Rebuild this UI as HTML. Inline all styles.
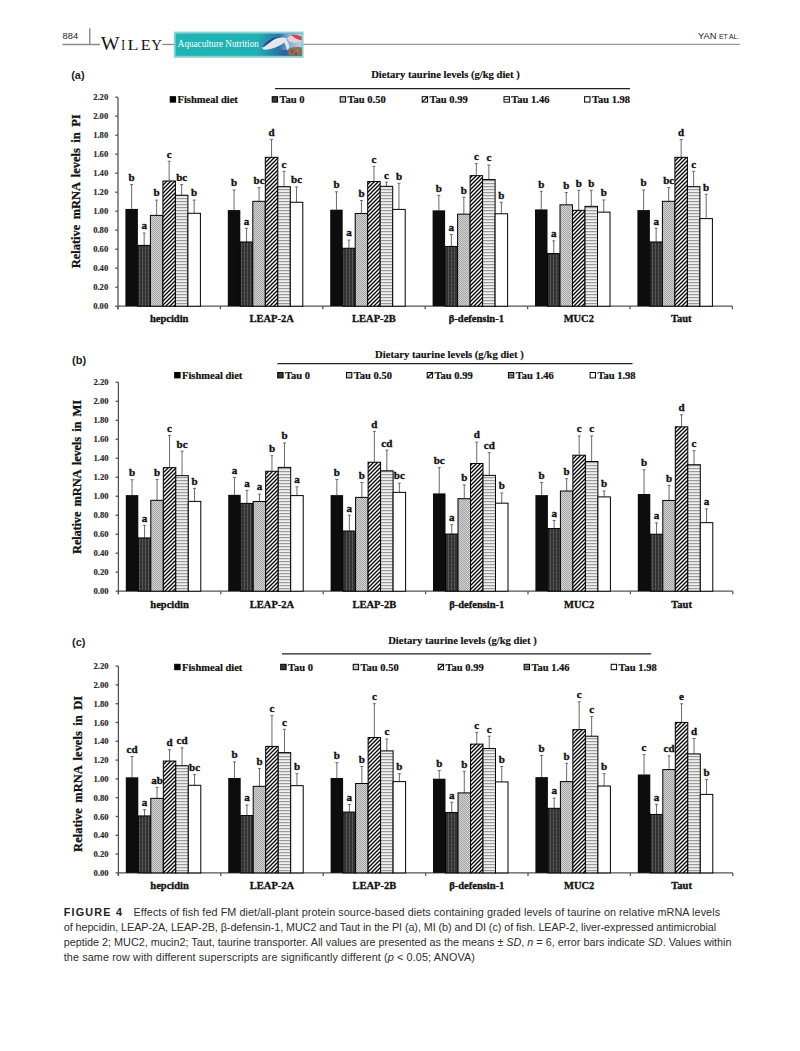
<!DOCTYPE html>
<html><head><meta charset="utf-8">
<style>
html,body{margin:0;padding:0;background:#fff;}
body{width:800px;height:1051px;position:relative;overflow:hidden;}
svg{position:absolute;left:0;top:0;}
.tag{font-family:"Liberation Sans",sans-serif;font-weight:bold;font-size:11px;fill:#222;}
.ttl{font-family:"Liberation Serif",serif;font-weight:bold;font-size:10.6px;fill:#111;stroke:#111;stroke-width:0.15px;}
.leg{font-family:"Liberation Serif",serif;font-weight:bold;font-size:10.5px;fill:#111;stroke:#111;stroke-width:0.2px;}
.tick{font-family:"Liberation Serif",serif;font-weight:bold;font-size:8.6px;fill:#2a2a2a;stroke:#2a2a2a;stroke-width:0.15px;}
.yt{font-family:"Liberation Serif",serif;font-weight:bold;font-size:12.5px;fill:#111;stroke:#111;stroke-width:0.25px;word-spacing:2.4px;}
.lab{font-family:"Liberation Serif",serif;font-weight:bold;font-size:11px;fill:#111;stroke:#111;stroke-width:0.35px;}
.cat{font-family:"Liberation Serif",serif;font-weight:bold;font-size:10.5px;fill:#111;stroke:#111;stroke-width:0.3px;}
.axis{stroke:#555;stroke-width:1.3;}
.err{stroke:#6a6a6a;stroke-width:1;}
.cap{font-family:"Liberation Sans",sans-serif;font-size:9.6px;fill:#333;}
</style></head>
<body>
<svg width="800" height="1051" viewBox="0 0 800 1051">
<defs>
<pattern id="pDark" width="3" height="4" patternUnits="userSpaceOnUse">
<rect width="3" height="4" fill="#333"/><rect x="1" width="1" height="4" fill="#5c5c5c"/><rect x="1" y="2" width="1" height="1" fill="#444"/>
</pattern>
<pattern id="pDot" width="2" height="2" patternUnits="userSpaceOnUse">
<rect width="2" height="2" fill="#d2d2d2"/><rect width="1" height="1" fill="#a6a6a6"/><rect x="1" y="1" width="1" height="1" fill="#a6a6a6"/>
</pattern>
<pattern id="pDiag" width="4" height="4" patternUnits="userSpaceOnUse">
<rect width="4" height="4" fill="#fff"/><path d="M-1,1 L1,-1 M0,4 L4,0 M3,5 L5,3" stroke="#000" stroke-width="1.3"/>
</pattern>
<pattern id="pDiagS" width="2.5" height="2.5" patternUnits="userSpaceOnUse">
<rect width="2.5" height="2.5" fill="#fff"/><path d="M0,2.5 L2.5,0" stroke="#000" stroke-width="1"/>
</pattern>
<pattern id="pHor" width="4" height="3" patternUnits="userSpaceOnUse">
<rect width="4" height="3" fill="#f0f0f0"/><rect y="0" width="4" height="1.2" fill="#9a9a9a"/>
</pattern>
<linearGradient id="teal" x1="0" y1="0" x2="1" y2="0">
<stop offset="0" stop-color="#20b4b4"/><stop offset="0.64" stop-color="#1fb2b4"/><stop offset="0.76" stop-color="#2a86b0"/><stop offset="0.86" stop-color="#2d64a2"/><stop offset="1" stop-color="#3d6aa6"/>
</linearGradient>
<linearGradient id="lb" x1="0" y1="0" x2="1" y2="0"><stop offset="0" stop-color="#9fbfdc" stop-opacity="0"/><stop offset="0.4" stop-color="#9fbfdc" stop-opacity="0.75"/><stop offset="1" stop-color="#bcd2e6"/>
</linearGradient>
</defs>
<!-- header -->
<text x="62.6" y="39.3" style="font-family:'Liberation Sans',sans-serif;font-size:9.3px;fill:#222">884</text>
<line x1="89.8" y1="28.3" x2="89.8" y2="44.5" stroke="#777" stroke-width="1.2"/>
<line x1="62.5" y1="44.5" x2="100" y2="44.5" stroke="#8a8a8a" stroke-width="1.3"/>
<line x1="162.3" y1="44.5" x2="174" y2="44.5" stroke="#8a8a8a" stroke-width="1.3"/>
<line x1="303" y1="44.4" x2="740" y2="44.4" stroke="#9a9a9a" stroke-width="1.4"/>
<g style="font-family:'Liberation Serif',serif;fill:#151515">
<text x="100.8" y="49.8" font-size="18.6" textLength="18.8" lengthAdjust="spacingAndGlyphs">W</text>
<text x="121.2" y="49.8" font-size="14.6" textLength="3.8" lengthAdjust="spacingAndGlyphs">I</text>
<text x="127.6" y="49.8" font-size="14.6" textLength="11" lengthAdjust="spacingAndGlyphs">L</text>
<text x="140.7" y="49.8" font-size="14.6" textLength="9.9" lengthAdjust="spacingAndGlyphs">E</text>
<text x="151.3" y="49.8" font-size="14.6" textLength="10.8" lengthAdjust="spacingAndGlyphs">Y</text>
</g>
<rect x="173.8" y="31.6" width="129.8" height="26.2" fill="#8ad2d4"/>
<rect x="175.6" y="33.6" width="126.2" height="22.2" fill="url(#teal)"/>
<path d="M279,33.6 L301.8,33.6 L301.8,50 L279,50 Z" fill="url(#lb)"/>
<ellipse cx="274.5" cy="43.6" rx="13" ry="3.9" transform="rotate(-22 274.5 43.6)" fill="#e3e9f3"/>
<path d="M262.5,46.8 C266,42 271,38.2 277,36.4 C274,39.5 269,43 263.5,47.2 Z" fill="#24427e"/>
<path d="M284.5,38.5 C287.5,40 289.5,43.5 289,47.5 L287.5,50.5 C286.5,47.5 285.5,44 283.5,41.5 Z" fill="#dfe8f3"/>
<path d="M287.2,38.5 C288.5,35.5 294,34.3 298.5,34.8 C301,35.6 301.8,37.5 301.8,40.5 C299,42.8 294,43.2 290.5,42 C288.5,41.2 287.3,40 287.2,38.5 Z" fill="#e6cfd4"/>
<path d="M291,35 C295,34.3 299,34.8 301.6,36.8 L301.8,40.3 C298,39.8 294.5,38.2 291,35 Z" fill="#c4485a"/>
<path d="M288.4,49.2 C290.5,47.2 296,46.6 301.8,47.4 L301.8,55.8 L289,55.8 C288,53.8 287.8,51.2 288.4,49.2 Z" fill="#8b6e56"/>
<circle cx="292" cy="51.5" r="1.2" fill="#6d513c"/><circle cx="297.6" cy="50.2" r="1" fill="#a88a6d"/><circle cx="296" cy="54" r="1.1" fill="#604b3b"/>
<text x="177.8" y="47.2" textLength="81" lengthAdjust="spacingAndGlyphs" style="font-family:'Liberation Serif',serif;font-size:10.2px;fill:#fff">Aquaculture Nutrition</text>
<text x="698" y="39.2" style="font-family:'Liberation Sans',sans-serif;font-size:9.3px;fill:#222">YAN <tspan style="font-size:6.8px">ET AL.</tspan></text>
<text x="71.2" y="79.2" class="tag">(a)</text>
<text x="445.5" y="78.3" class="ttl" text-anchor="middle">Dietary taurine levels (g/kg diet )</text>
<line x1="275" y1="88.6" x2="630" y2="88.6" stroke="#222" stroke-width="1.3"/>
<rect x="170.2" y="96.7" width="5.4" height="5.4" fill="#000" stroke="#000" stroke-width="1"/>
<text x="177.5" y="103" class="leg">Fishmeal diet</text>
<rect x="272.2" y="96.7" width="5.4" height="5.4" fill="#3a3a3a" stroke="#000" stroke-width="1"/>
<text x="279.5" y="103" class="leg">Tau 0</text>
<rect x="340.2" y="96.7" width="5.4" height="5.4" fill="#c4c4c4" stroke="#000" stroke-width="1"/>
<text x="347.5" y="103" class="leg">Tau 0.50</text>
<rect x="422.2" y="96.7" width="5.4" height="5.4" fill="#fff" stroke="#000" stroke-width="1"/>
<line x1="422.2" y1="102.1" x2="427.6" y2="96.7" stroke="#000" stroke-width="1.2"/>
<text x="429.5" y="103" class="leg">Tau 0.99</text>
<rect x="504" y="96.7" width="5.4" height="5.4" fill="#fff" stroke="#000" stroke-width="1"/>
<line x1="504" y1="99.4" x2="509.4" y2="99.4" stroke="#333" stroke-width="1"/>
<text x="511.3" y="103" class="leg">Tau 1.46</text>
<rect x="584.6" y="96.7" width="5.4" height="5.4" fill="#fff" stroke="#000" stroke-width="1"/>
<text x="591.9" y="103" class="leg">Tau 1.98</text>
<line x1="118" y1="97.2" x2="118" y2="309.2" class="axis"/>
<line x1="118" y1="306.2" x2="732.4" y2="306.2" class="axis"/>
<line x1="115.2" y1="306.2" x2="118" y2="306.2" class="axis"/>
<text x="108.2" y="309.2" class="tick" text-anchor="end">0.00</text>
<line x1="115.2" y1="287.2" x2="118" y2="287.2" class="axis"/>
<text x="108.2" y="290.2" class="tick" text-anchor="end">0.20</text>
<line x1="115.2" y1="268.2" x2="118" y2="268.2" class="axis"/>
<text x="108.2" y="271.2" class="tick" text-anchor="end">0.40</text>
<line x1="115.2" y1="249.2" x2="118" y2="249.2" class="axis"/>
<text x="108.2" y="252.2" class="tick" text-anchor="end">0.60</text>
<line x1="115.2" y1="230.2" x2="118" y2="230.2" class="axis"/>
<text x="108.2" y="233.2" class="tick" text-anchor="end">0.80</text>
<line x1="115.2" y1="211.2" x2="118" y2="211.2" class="axis"/>
<text x="108.2" y="214.2" class="tick" text-anchor="end">1.00</text>
<line x1="115.2" y1="192.2" x2="118" y2="192.2" class="axis"/>
<text x="108.2" y="195.2" class="tick" text-anchor="end">1.20</text>
<line x1="115.2" y1="173.2" x2="118" y2="173.2" class="axis"/>
<text x="108.2" y="176.2" class="tick" text-anchor="end">1.40</text>
<line x1="115.2" y1="154.2" x2="118" y2="154.2" class="axis"/>
<text x="108.2" y="157.2" class="tick" text-anchor="end">1.60</text>
<line x1="115.2" y1="135.2" x2="118" y2="135.2" class="axis"/>
<text x="108.2" y="138.2" class="tick" text-anchor="end">1.80</text>
<line x1="115.2" y1="116.2" x2="118" y2="116.2" class="axis"/>
<text x="108.2" y="119.2" class="tick" text-anchor="end">2.00</text>
<line x1="115.2" y1="97.2" x2="118" y2="97.2" class="axis"/>
<text x="108.2" y="100.2" class="tick" text-anchor="end">2.20</text>
<line x1="118" y1="306.2" x2="118" y2="309.2" class="axis"/>
<line x1="220.4" y1="306.2" x2="220.4" y2="309.2" class="axis"/>
<line x1="322.8" y1="306.2" x2="322.8" y2="309.2" class="axis"/>
<line x1="425.2" y1="306.2" x2="425.2" y2="309.2" class="axis"/>
<line x1="527.6" y1="306.2" x2="527.6" y2="309.2" class="axis"/>
<line x1="630" y1="306.2" x2="630" y2="309.2" class="axis"/>
<line x1="732.4" y1="306.2" x2="732.4" y2="309.2" class="axis"/>
<text transform="translate(80,191.3) rotate(-90)" class="yt" text-anchor="middle" textLength="154" lengthAdjust="spacing">Relative mRNA levels in PI</text>
<line x1="131.65" y1="184.6" x2="131.65" y2="208.92" class="err"/>
<line x1="130.15" y1="184.6" x2="133.15" y2="184.6" class="err"/>
<rect x="125.4" y="208.92" width="12.5" height="97.28" fill="#0d0d0d"/>
<text x="131.65" y="180.9" class="lab" text-anchor="middle">b</text>
<line x1="144.15" y1="233.05" x2="144.15" y2="245.4" class="err"/>
<line x1="142.65" y1="233.05" x2="145.65" y2="233.05" class="err"/>
<rect x="137.9" y="245.4" width="12.5" height="60.8" fill="url(#pDark)" stroke="#000" stroke-width="1"/>
<text x="144.15" y="229.35" class="lab" text-anchor="middle">a</text>
<line x1="156.65" y1="200.08" x2="156.65" y2="215.38" class="err"/>
<line x1="155.15" y1="200.08" x2="158.15" y2="200.08" class="err"/>
<rect x="150.4" y="215.38" width="12.5" height="90.82" fill="url(#pDot)" stroke="#000" stroke-width="1"/>
<text x="156.65" y="196.38" class="lab" text-anchor="middle">b</text>
<line x1="169.15" y1="161.23" x2="169.15" y2="180.99" class="err"/>
<line x1="167.65" y1="161.23" x2="170.65" y2="161.23" class="err"/>
<rect x="162.9" y="180.99" width="12.5" height="125.21" fill="url(#pDiag)" stroke="#000" stroke-width="1"/>
<text x="169.15" y="157.53" class="lab" text-anchor="middle">c</text>
<line x1="181.65" y1="184.6" x2="181.65" y2="195.24" class="err"/>
<line x1="180.15" y1="184.6" x2="183.15" y2="184.6" class="err"/>
<rect x="175.4" y="195.24" width="12.5" height="110.96" fill="url(#pHor)" stroke="#000" stroke-width="1"/>
<text x="181.65" y="180.9" class="lab" text-anchor="middle">bc</text>
<line x1="194.15" y1="200.08" x2="194.15" y2="213.29" class="err"/>
<line x1="192.65" y1="200.08" x2="195.65" y2="200.08" class="err"/>
<rect x="187.9" y="213.29" width="12.5" height="92.91" fill="#ffffff" stroke="#000" stroke-width="1"/>
<text x="194.15" y="196.38" class="lab" text-anchor="middle">b</text>
<text x="169.2" y="321.8" class="cat" text-anchor="middle">hepcidin</text>
<line x1="234.05" y1="190.01" x2="234.05" y2="210.06" class="err"/>
<line x1="232.55" y1="190.01" x2="235.55" y2="190.01" class="err"/>
<rect x="227.8" y="210.06" width="12.5" height="96.14" fill="#0d0d0d"/>
<text x="234.05" y="186.31" class="lab" text-anchor="middle">b</text>
<line x1="246.55" y1="228.3" x2="246.55" y2="241.98" class="err"/>
<line x1="245.05" y1="228.3" x2="248.05" y2="228.3" class="err"/>
<rect x="240.3" y="241.98" width="12.5" height="64.22" fill="url(#pDark)" stroke="#000" stroke-width="1"/>
<text x="246.55" y="224.6" class="lab" text-anchor="middle">a</text>
<line x1="259.05" y1="187.64" x2="259.05" y2="201.32" class="err"/>
<line x1="257.55" y1="187.64" x2="260.55" y2="187.64" class="err"/>
<rect x="252.8" y="201.32" width="12.5" height="104.88" fill="url(#pDot)" stroke="#000" stroke-width="1"/>
<text x="259.05" y="183.94" class="lab" text-anchor="middle">bc</text>
<line x1="271.55" y1="139.47" x2="271.55" y2="157.33" class="err"/>
<line x1="270.05" y1="139.47" x2="273.05" y2="139.47" class="err"/>
<rect x="265.3" y="157.33" width="12.5" height="148.87" fill="url(#pDiag)" stroke="#000" stroke-width="1"/>
<text x="271.55" y="135.78" class="lab" text-anchor="middle">d</text>
<line x1="284.05" y1="171.3" x2="284.05" y2="186.69" class="err"/>
<line x1="282.55" y1="171.3" x2="285.55" y2="171.3" class="err"/>
<rect x="277.8" y="186.69" width="12.5" height="119.51" fill="url(#pHor)" stroke="#000" stroke-width="1"/>
<text x="284.05" y="167.6" class="lab" text-anchor="middle">c</text>
<line x1="296.55" y1="186.97" x2="296.55" y2="202.27" class="err"/>
<line x1="295.05" y1="186.97" x2="298.05" y2="186.97" class="err"/>
<rect x="290.3" y="202.27" width="12.5" height="103.93" fill="#ffffff" stroke="#000" stroke-width="1"/>
<text x="296.55" y="183.28" class="lab" text-anchor="middle">bc</text>
<text x="271.6" y="321.8" class="cat" text-anchor="middle">LEAP-2A</text>
<line x1="336.45" y1="191.82" x2="336.45" y2="209.68" class="err"/>
<line x1="334.95" y1="191.82" x2="337.95" y2="191.82" class="err"/>
<rect x="330.2" y="209.68" width="12.5" height="96.52" fill="#0d0d0d"/>
<text x="336.45" y="188.12" class="lab" text-anchor="middle">b</text>
<line x1="348.95" y1="240.08" x2="348.95" y2="248.25" class="err"/>
<line x1="347.45" y1="240.08" x2="350.45" y2="240.08" class="err"/>
<rect x="342.7" y="248.25" width="12.5" height="57.95" fill="url(#pDark)" stroke="#000" stroke-width="1"/>
<text x="348.95" y="236.38" class="lab" text-anchor="middle">a</text>
<line x1="361.45" y1="200.46" x2="361.45" y2="213.48" class="err"/>
<line x1="359.95" y1="200.46" x2="362.95" y2="200.46" class="err"/>
<rect x="355.2" y="213.48" width="12.5" height="92.72" fill="url(#pDot)" stroke="#000" stroke-width="1"/>
<text x="361.45" y="196.76" class="lab" text-anchor="middle">b</text>
<line x1="373.95" y1="166.36" x2="373.95" y2="181.56" class="err"/>
<line x1="372.45" y1="166.36" x2="375.45" y2="166.36" class="err"/>
<rect x="367.7" y="181.56" width="12.5" height="124.64" fill="url(#pDiag)" stroke="#000" stroke-width="1"/>
<text x="373.95" y="162.66" class="lab" text-anchor="middle">c</text>
<line x1="386.45" y1="182.22" x2="386.45" y2="186.31" class="err"/>
<line x1="384.95" y1="182.22" x2="387.95" y2="182.22" class="err"/>
<rect x="380.2" y="186.31" width="12.5" height="119.89" fill="url(#pHor)" stroke="#000" stroke-width="1"/>
<text x="386.45" y="178.53" class="lab" text-anchor="middle">c</text>
<line x1="398.95" y1="183.27" x2="398.95" y2="209.39" class="err"/>
<line x1="397.45" y1="183.27" x2="400.45" y2="183.27" class="err"/>
<rect x="392.7" y="209.39" width="12.5" height="96.81" fill="#ffffff" stroke="#000" stroke-width="1"/>
<text x="398.95" y="179.57" class="lab" text-anchor="middle">b</text>
<text x="374" y="321.8" class="cat" text-anchor="middle">LEAP-2B</text>
<line x1="438.85" y1="195.33" x2="438.85" y2="210.34" class="err"/>
<line x1="437.35" y1="195.33" x2="440.35" y2="195.33" class="err"/>
<rect x="432.6" y="210.34" width="12.5" height="95.85" fill="#0d0d0d"/>
<text x="438.85" y="191.63" class="lab" text-anchor="middle">b</text>
<line x1="451.35" y1="234.57" x2="451.35" y2="246.44" class="err"/>
<line x1="449.85" y1="234.57" x2="452.85" y2="234.57" class="err"/>
<rect x="445.1" y="246.44" width="12.5" height="59.75" fill="url(#pDark)" stroke="#000" stroke-width="1"/>
<text x="451.35" y="230.87" class="lab" text-anchor="middle">a</text>
<line x1="463.85" y1="197.23" x2="463.85" y2="214.14" class="err"/>
<line x1="462.35" y1="197.23" x2="465.35" y2="197.23" class="err"/>
<rect x="457.6" y="214.14" width="12.5" height="92.06" fill="url(#pDot)" stroke="#000" stroke-width="1"/>
<text x="463.85" y="193.53" class="lab" text-anchor="middle">b</text>
<line x1="476.35" y1="163.7" x2="476.35" y2="175.67" class="err"/>
<line x1="474.85" y1="163.7" x2="477.85" y2="163.7" class="err"/>
<rect x="470.1" y="175.67" width="12.5" height="130.53" fill="url(#pDiag)" stroke="#000" stroke-width="1"/>
<text x="476.35" y="160" class="lab" text-anchor="middle">c</text>
<line x1="488.85" y1="165.03" x2="488.85" y2="179.56" class="err"/>
<line x1="487.35" y1="165.03" x2="490.35" y2="165.03" class="err"/>
<rect x="482.6" y="179.56" width="12.5" height="126.63" fill="url(#pHor)" stroke="#000" stroke-width="1"/>
<text x="488.85" y="161.33" class="lab" text-anchor="middle">c</text>
<line x1="501.35" y1="202.27" x2="501.35" y2="213.76" class="err"/>
<line x1="499.85" y1="202.27" x2="502.85" y2="202.27" class="err"/>
<rect x="495.1" y="213.76" width="12.5" height="92.44" fill="#ffffff" stroke="#000" stroke-width="1"/>
<text x="501.35" y="198.57" class="lab" text-anchor="middle">b</text>
<text x="476.4" y="321.8" class="cat" text-anchor="middle">β-defensin-1</text>
<line x1="541.25" y1="191.25" x2="541.25" y2="209.39" class="err"/>
<line x1="539.75" y1="191.25" x2="542.75" y2="191.25" class="err"/>
<rect x="535" y="209.39" width="12.5" height="96.81" fill="#0d0d0d"/>
<text x="541.25" y="187.55" class="lab" text-anchor="middle">b</text>
<line x1="553.75" y1="240.84" x2="553.75" y2="253.57" class="err"/>
<line x1="552.25" y1="240.84" x2="555.25" y2="240.84" class="err"/>
<rect x="547.5" y="253.57" width="12.5" height="52.63" fill="url(#pDark)" stroke="#000" stroke-width="1"/>
<text x="553.75" y="237.14" class="lab" text-anchor="middle">a</text>
<line x1="566.25" y1="192.48" x2="566.25" y2="204.83" class="err"/>
<line x1="564.75" y1="192.48" x2="567.75" y2="192.48" class="err"/>
<rect x="560" y="204.83" width="12.5" height="101.37" fill="url(#pDot)" stroke="#000" stroke-width="1"/>
<text x="566.25" y="188.78" class="lab" text-anchor="middle">b</text>
<line x1="578.75" y1="190.3" x2="578.75" y2="210.34" class="err"/>
<line x1="577.25" y1="190.3" x2="580.25" y2="190.3" class="err"/>
<rect x="572.5" y="210.34" width="12.5" height="95.85" fill="url(#pDiag)" stroke="#000" stroke-width="1"/>
<text x="578.75" y="186.6" class="lab" text-anchor="middle">b</text>
<line x1="591.25" y1="190.3" x2="591.25" y2="206.35" class="err"/>
<line x1="589.75" y1="190.3" x2="592.75" y2="190.3" class="err"/>
<rect x="585" y="206.35" width="12.5" height="99.84" fill="url(#pHor)" stroke="#000" stroke-width="1"/>
<text x="591.25" y="186.6" class="lab" text-anchor="middle">b</text>
<line x1="603.75" y1="199.99" x2="603.75" y2="212.15" class="err"/>
<line x1="602.25" y1="199.99" x2="605.25" y2="199.99" class="err"/>
<rect x="597.5" y="212.15" width="12.5" height="94.05" fill="#ffffff" stroke="#000" stroke-width="1"/>
<text x="603.75" y="196.29" class="lab" text-anchor="middle">b</text>
<text x="578.8" y="321.8" class="cat" text-anchor="middle">MUC2</text>
<line x1="643.65" y1="190.01" x2="643.65" y2="210.06" class="err"/>
<line x1="642.15" y1="190.01" x2="645.15" y2="190.01" class="err"/>
<rect x="637.4" y="210.06" width="12.5" height="96.14" fill="#0d0d0d"/>
<text x="643.65" y="186.31" class="lab" text-anchor="middle">b</text>
<line x1="656.15" y1="228.3" x2="656.15" y2="241.98" class="err"/>
<line x1="654.65" y1="228.3" x2="657.65" y2="228.3" class="err"/>
<rect x="649.9" y="241.98" width="12.5" height="64.22" fill="url(#pDark)" stroke="#000" stroke-width="1"/>
<text x="656.15" y="224.6" class="lab" text-anchor="middle">a</text>
<line x1="668.65" y1="187.64" x2="668.65" y2="201.32" class="err"/>
<line x1="667.15" y1="187.64" x2="670.15" y2="187.64" class="err"/>
<rect x="662.4" y="201.32" width="12.5" height="104.88" fill="url(#pDot)" stroke="#000" stroke-width="1"/>
<text x="668.65" y="183.94" class="lab" text-anchor="middle">bc</text>
<line x1="681.15" y1="139.47" x2="681.15" y2="157.33" class="err"/>
<line x1="679.65" y1="139.47" x2="682.65" y2="139.47" class="err"/>
<rect x="674.9" y="157.33" width="12.5" height="148.87" fill="url(#pDiag)" stroke="#000" stroke-width="1"/>
<text x="681.15" y="135.78" class="lab" text-anchor="middle">d</text>
<line x1="693.65" y1="171.3" x2="693.65" y2="186.69" class="err"/>
<line x1="692.15" y1="171.3" x2="695.15" y2="171.3" class="err"/>
<rect x="687.4" y="186.69" width="12.5" height="119.51" fill="url(#pHor)" stroke="#000" stroke-width="1"/>
<text x="693.65" y="167.6" class="lab" text-anchor="middle">c</text>
<line x1="706.15" y1="194.29" x2="706.15" y2="218.61" class="err"/>
<line x1="704.65" y1="194.29" x2="707.65" y2="194.29" class="err"/>
<rect x="699.9" y="218.61" width="12.5" height="87.59" fill="#ffffff" stroke="#000" stroke-width="1"/>
<text x="706.15" y="190.59" class="lab" text-anchor="middle">b</text>
<text x="681.2" y="321.8" class="cat" text-anchor="middle">Taut</text>
<text x="72" y="364.2" class="tag">(b)</text>
<text x="449.4" y="358" class="ttl" text-anchor="middle">Dietary taurine levels (g/kg diet )</text>
<line x1="277.5" y1="363.6" x2="632.5" y2="363.6" stroke="#222" stroke-width="1.3"/>
<rect x="174.7" y="372.5" width="5.4" height="5.4" fill="#000" stroke="#000" stroke-width="1"/>
<text x="182" y="378.8" class="leg">Fishmeal diet</text>
<rect x="277.7" y="372.5" width="5.4" height="5.4" fill="#3a3a3a" stroke="#000" stroke-width="1"/>
<text x="285" y="378.8" class="leg">Tau 0</text>
<rect x="346.45" y="372.5" width="5.4" height="5.4" fill="#c4c4c4" stroke="#000" stroke-width="1"/>
<text x="353.75" y="378.8" class="leg">Tau 0.50</text>
<rect x="427.2" y="372.5" width="5.4" height="5.4" fill="#fff" stroke="#000" stroke-width="1"/>
<line x1="427.2" y1="377.9" x2="432.6" y2="372.5" stroke="#000" stroke-width="1.2"/>
<text x="434.5" y="378.8" class="leg">Tau 0.99</text>
<rect x="508.4" y="372.5" width="5.4" height="5.4" fill="#999" stroke="#000" stroke-width="1"/>
<line x1="508.4" y1="375.2" x2="513.8" y2="375.2" stroke="#333" stroke-width="1"/>
<text x="515.7" y="378.8" class="leg">Tau 1.46</text>
<rect x="590.1" y="372.5" width="5.4" height="5.4" fill="#fff" stroke="#000" stroke-width="1"/>
<text x="597.4" y="378.8" class="leg">Tau 1.98</text>
<line x1="118.4" y1="382.31" x2="118.4" y2="594.2" class="axis"/>
<line x1="118.4" y1="591.2" x2="732.8" y2="591.2" class="axis"/>
<line x1="115.6" y1="591.2" x2="118.4" y2="591.2" class="axis"/>
<text x="108.6" y="594.2" class="tick" text-anchor="end">0.00</text>
<line x1="115.6" y1="572.21" x2="118.4" y2="572.21" class="axis"/>
<text x="108.6" y="575.21" class="tick" text-anchor="end">0.20</text>
<line x1="115.6" y1="553.22" x2="118.4" y2="553.22" class="axis"/>
<text x="108.6" y="556.22" class="tick" text-anchor="end">0.40</text>
<line x1="115.6" y1="534.23" x2="118.4" y2="534.23" class="axis"/>
<text x="108.6" y="537.23" class="tick" text-anchor="end">0.60</text>
<line x1="115.6" y1="515.24" x2="118.4" y2="515.24" class="axis"/>
<text x="108.6" y="518.24" class="tick" text-anchor="end">0.80</text>
<line x1="115.6" y1="496.25" x2="118.4" y2="496.25" class="axis"/>
<text x="108.6" y="499.25" class="tick" text-anchor="end">1.00</text>
<line x1="115.6" y1="477.26" x2="118.4" y2="477.26" class="axis"/>
<text x="108.6" y="480.26" class="tick" text-anchor="end">1.20</text>
<line x1="115.6" y1="458.27" x2="118.4" y2="458.27" class="axis"/>
<text x="108.6" y="461.27" class="tick" text-anchor="end">1.40</text>
<line x1="115.6" y1="439.28" x2="118.4" y2="439.28" class="axis"/>
<text x="108.6" y="442.28" class="tick" text-anchor="end">1.60</text>
<line x1="115.6" y1="420.29" x2="118.4" y2="420.29" class="axis"/>
<text x="108.6" y="423.29" class="tick" text-anchor="end">1.80</text>
<line x1="115.6" y1="401.3" x2="118.4" y2="401.3" class="axis"/>
<text x="108.6" y="404.3" class="tick" text-anchor="end">2.00</text>
<line x1="115.6" y1="382.31" x2="118.4" y2="382.31" class="axis"/>
<text x="108.6" y="385.31" class="tick" text-anchor="end">2.20</text>
<line x1="118.4" y1="591.2" x2="118.4" y2="594.2" class="axis"/>
<line x1="220.8" y1="591.2" x2="220.8" y2="594.2" class="axis"/>
<line x1="323.2" y1="591.2" x2="323.2" y2="594.2" class="axis"/>
<line x1="425.6" y1="591.2" x2="425.6" y2="594.2" class="axis"/>
<line x1="528" y1="591.2" x2="528" y2="594.2" class="axis"/>
<line x1="630.4" y1="591.2" x2="630.4" y2="594.2" class="axis"/>
<line x1="732.8" y1="591.2" x2="732.8" y2="594.2" class="axis"/>
<text transform="translate(80.8,476.9) rotate(-90)" class="yt" text-anchor="middle" textLength="154" lengthAdjust="spacing">Relative mRNA levels in MI</text>
<line x1="132.05" y1="479.73" x2="132.05" y2="495.11" class="err"/>
<line x1="130.55" y1="479.73" x2="133.55" y2="479.73" class="err"/>
<rect x="125.8" y="495.11" width="12.5" height="96.09" fill="#0d0d0d"/>
<text x="132.05" y="476.03" class="lab" text-anchor="middle">b</text>
<line x1="144.55" y1="525.3" x2="144.55" y2="537.93" class="err"/>
<line x1="143.05" y1="525.3" x2="146.05" y2="525.3" class="err"/>
<rect x="138.3" y="537.93" width="12.5" height="53.27" fill="url(#pDark)" stroke="#000" stroke-width="1"/>
<text x="144.55" y="521.6" class="lab" text-anchor="middle">a</text>
<line x1="157.05" y1="479.44" x2="157.05" y2="500.33" class="err"/>
<line x1="155.55" y1="479.44" x2="158.55" y2="479.44" class="err"/>
<rect x="150.8" y="500.33" width="12.5" height="90.87" fill="url(#pDot)" stroke="#000" stroke-width="1"/>
<text x="157.05" y="475.74" class="lab" text-anchor="middle">b</text>
<line x1="169.55" y1="435.48" x2="169.55" y2="467.67" class="err"/>
<line x1="168.05" y1="435.48" x2="171.05" y2="435.48" class="err"/>
<rect x="163.3" y="467.67" width="12.5" height="123.53" fill="url(#pDiag)" stroke="#000" stroke-width="1"/>
<text x="169.55" y="431.78" class="lab" text-anchor="middle">c</text>
<line x1="182.05" y1="451.24" x2="182.05" y2="475.65" class="err"/>
<line x1="180.55" y1="451.24" x2="183.55" y2="451.24" class="err"/>
<rect x="175.8" y="475.65" width="12.5" height="115.55" fill="url(#pHor)" stroke="#000" stroke-width="1"/>
<text x="182.05" y="447.54" class="lab" text-anchor="middle">bc</text>
<line x1="194.55" y1="488.37" x2="194.55" y2="501.38" class="err"/>
<line x1="193.05" y1="488.37" x2="196.05" y2="488.37" class="err"/>
<rect x="188.3" y="501.38" width="12.5" height="89.82" fill="#ffffff" stroke="#000" stroke-width="1"/>
<text x="194.55" y="484.67" class="lab" text-anchor="middle">b</text>
<text x="169.6" y="607.5" class="cat" text-anchor="middle">hepcidin</text>
<line x1="234.45" y1="477.35" x2="234.45" y2="494.83" class="err"/>
<line x1="232.95" y1="477.35" x2="235.95" y2="477.35" class="err"/>
<rect x="228.2" y="494.83" width="12.5" height="96.37" fill="#0d0d0d"/>
<text x="234.45" y="473.65" class="lab" text-anchor="middle">a</text>
<line x1="246.95" y1="490.36" x2="246.95" y2="503.37" class="err"/>
<line x1="245.45" y1="490.36" x2="248.45" y2="490.36" class="err"/>
<rect x="240.7" y="503.37" width="12.5" height="87.83" fill="url(#pDark)" stroke="#000" stroke-width="1"/>
<text x="246.95" y="486.66" class="lab" text-anchor="middle">a</text>
<line x1="259.45" y1="494.16" x2="259.45" y2="501.47" class="err"/>
<line x1="257.95" y1="494.16" x2="260.95" y2="494.16" class="err"/>
<rect x="253.2" y="501.47" width="12.5" height="89.73" fill="url(#pDot)" stroke="#000" stroke-width="1"/>
<text x="259.45" y="490.46" class="lab" text-anchor="middle">a</text>
<line x1="271.95" y1="455.71" x2="271.95" y2="471.28" class="err"/>
<line x1="270.45" y1="455.71" x2="273.45" y2="455.71" class="err"/>
<rect x="265.7" y="471.28" width="12.5" height="119.92" fill="url(#pDiag)" stroke="#000" stroke-width="1"/>
<text x="271.95" y="452.01" class="lab" text-anchor="middle">b</text>
<line x1="284.45" y1="442.98" x2="284.45" y2="467.39" class="err"/>
<line x1="282.95" y1="442.98" x2="285.95" y2="442.98" class="err"/>
<rect x="278.2" y="467.39" width="12.5" height="123.81" fill="url(#pHor)" stroke="#000" stroke-width="1"/>
<text x="284.45" y="439.28" class="lab" text-anchor="middle">b</text>
<line x1="296.95" y1="486.85" x2="296.95" y2="495.59" class="err"/>
<line x1="295.45" y1="486.85" x2="298.45" y2="486.85" class="err"/>
<rect x="290.7" y="495.59" width="12.5" height="95.61" fill="#ffffff" stroke="#000" stroke-width="1"/>
<text x="296.95" y="483.15" class="lab" text-anchor="middle">a</text>
<text x="272" y="607.5" class="cat" text-anchor="middle">LEAP-2A</text>
<line x1="336.85" y1="479.44" x2="336.85" y2="495.11" class="err"/>
<line x1="335.35" y1="479.44" x2="338.35" y2="479.44" class="err"/>
<rect x="330.6" y="495.11" width="12.5" height="96.09" fill="#0d0d0d"/>
<text x="336.85" y="475.74" class="lab" text-anchor="middle">b</text>
<line x1="349.35" y1="515.24" x2="349.35" y2="531" class="err"/>
<line x1="347.85" y1="515.24" x2="350.85" y2="515.24" class="err"/>
<rect x="343.1" y="531" width="12.5" height="60.2" fill="url(#pDark)" stroke="#000" stroke-width="1"/>
<text x="349.35" y="511.54" class="lab" text-anchor="middle">a</text>
<line x1="361.85" y1="482.48" x2="361.85" y2="497.39" class="err"/>
<line x1="360.35" y1="482.48" x2="363.35" y2="482.48" class="err"/>
<rect x="355.6" y="497.39" width="12.5" height="93.81" fill="url(#pDot)" stroke="#000" stroke-width="1"/>
<text x="361.85" y="478.78" class="lab" text-anchor="middle">b</text>
<line x1="374.35" y1="431.4" x2="374.35" y2="462.26" class="err"/>
<line x1="372.85" y1="431.4" x2="375.85" y2="431.4" class="err"/>
<rect x="368.1" y="462.26" width="12.5" height="128.94" fill="url(#pDiag)" stroke="#000" stroke-width="1"/>
<text x="374.35" y="427.7" class="lab" text-anchor="middle">d</text>
<line x1="386.85" y1="450.2" x2="386.85" y2="470.8" class="err"/>
<line x1="385.35" y1="450.2" x2="388.35" y2="450.2" class="err"/>
<rect x="380.6" y="470.8" width="12.5" height="120.4" fill="url(#pHor)" stroke="#000" stroke-width="1"/>
<text x="386.85" y="446.5" class="lab" text-anchor="middle">cd</text>
<line x1="399.35" y1="483.15" x2="399.35" y2="492.36" class="err"/>
<line x1="397.85" y1="483.15" x2="400.85" y2="483.15" class="err"/>
<rect x="393.1" y="492.36" width="12.5" height="98.84" fill="#ffffff" stroke="#000" stroke-width="1"/>
<text x="399.35" y="479.45" class="lab" text-anchor="middle">bc</text>
<text x="374.4" y="607.5" class="cat" text-anchor="middle">LEAP-2B</text>
<line x1="439.25" y1="467.67" x2="439.25" y2="493.4" class="err"/>
<line x1="437.75" y1="467.67" x2="440.75" y2="467.67" class="err"/>
<rect x="433" y="493.4" width="12.5" height="97.8" fill="#0d0d0d"/>
<text x="439.25" y="463.97" class="lab" text-anchor="middle">bc</text>
<line x1="451.75" y1="524.74" x2="451.75" y2="534.04" class="err"/>
<line x1="450.25" y1="524.74" x2="453.25" y2="524.74" class="err"/>
<rect x="445.5" y="534.04" width="12.5" height="57.16" fill="url(#pDark)" stroke="#000" stroke-width="1"/>
<text x="451.75" y="521.03" class="lab" text-anchor="middle">a</text>
<line x1="464.25" y1="484.95" x2="464.25" y2="498.72" class="err"/>
<line x1="462.75" y1="484.95" x2="465.75" y2="484.95" class="err"/>
<rect x="458" y="498.72" width="12.5" height="92.48" fill="url(#pDot)" stroke="#000" stroke-width="1"/>
<text x="464.25" y="481.25" class="lab" text-anchor="middle">b</text>
<line x1="476.75" y1="442.13" x2="476.75" y2="463.49" class="err"/>
<line x1="475.25" y1="442.13" x2="478.25" y2="442.13" class="err"/>
<rect x="470.5" y="463.49" width="12.5" height="127.71" fill="url(#pDiag)" stroke="#000" stroke-width="1"/>
<text x="476.75" y="438.43" class="lab" text-anchor="middle">d</text>
<line x1="489.25" y1="452.67" x2="489.25" y2="475.36" class="err"/>
<line x1="487.75" y1="452.67" x2="490.75" y2="452.67" class="err"/>
<rect x="483" y="475.36" width="12.5" height="115.84" fill="url(#pHor)" stroke="#000" stroke-width="1"/>
<text x="489.25" y="448.97" class="lab" text-anchor="middle">cd</text>
<line x1="501.75" y1="493.02" x2="501.75" y2="503.18" class="err"/>
<line x1="500.25" y1="493.02" x2="503.25" y2="493.02" class="err"/>
<rect x="495.5" y="503.18" width="12.5" height="88.02" fill="#ffffff" stroke="#000" stroke-width="1"/>
<text x="501.75" y="489.32" class="lab" text-anchor="middle">b</text>
<text x="476.8" y="607.5" class="cat" text-anchor="middle">β-defensin-1</text>
<line x1="541.65" y1="482.48" x2="541.65" y2="495.11" class="err"/>
<line x1="540.15" y1="482.48" x2="543.15" y2="482.48" class="err"/>
<rect x="535.4" y="495.11" width="12.5" height="96.09" fill="#0d0d0d"/>
<text x="541.65" y="478.78" class="lab" text-anchor="middle">b</text>
<line x1="554.15" y1="520.56" x2="554.15" y2="528.53" class="err"/>
<line x1="552.65" y1="520.56" x2="555.65" y2="520.56" class="err"/>
<rect x="547.9" y="528.53" width="12.5" height="62.67" fill="url(#pDark)" stroke="#000" stroke-width="1"/>
<text x="554.15" y="516.86" class="lab" text-anchor="middle">a</text>
<line x1="566.65" y1="478.68" x2="566.65" y2="491.03" class="err"/>
<line x1="565.15" y1="478.68" x2="568.15" y2="478.68" class="err"/>
<rect x="560.4" y="491.03" width="12.5" height="100.17" fill="url(#pDot)" stroke="#000" stroke-width="1"/>
<text x="566.65" y="474.98" class="lab" text-anchor="middle">b</text>
<line x1="579.15" y1="435.96" x2="579.15" y2="455.23" class="err"/>
<line x1="577.65" y1="435.96" x2="580.65" y2="435.96" class="err"/>
<rect x="572.9" y="455.23" width="12.5" height="135.97" fill="url(#pDiag)" stroke="#000" stroke-width="1"/>
<text x="579.15" y="432.26" class="lab" text-anchor="middle">c</text>
<line x1="591.65" y1="435.96" x2="591.65" y2="461.5" class="err"/>
<line x1="590.15" y1="435.96" x2="593.15" y2="435.96" class="err"/>
<rect x="585.4" y="461.5" width="12.5" height="129.7" fill="url(#pHor)" stroke="#000" stroke-width="1"/>
<text x="591.65" y="432.26" class="lab" text-anchor="middle">c</text>
<line x1="604.15" y1="491.03" x2="604.15" y2="496.91" class="err"/>
<line x1="602.65" y1="491.03" x2="605.65" y2="491.03" class="err"/>
<rect x="597.9" y="496.91" width="12.5" height="94.29" fill="#ffffff" stroke="#000" stroke-width="1"/>
<text x="604.15" y="487.33" class="lab" text-anchor="middle">b</text>
<text x="579.2" y="607.5" class="cat" text-anchor="middle">MUC2</text>
<line x1="644.05" y1="469.76" x2="644.05" y2="493.97" class="err"/>
<line x1="642.55" y1="469.76" x2="645.55" y2="469.76" class="err"/>
<rect x="637.8" y="493.97" width="12.5" height="97.23" fill="#0d0d0d"/>
<text x="644.05" y="466.06" class="lab" text-anchor="middle">b</text>
<line x1="656.55" y1="522.93" x2="656.55" y2="534.23" class="err"/>
<line x1="655.05" y1="522.93" x2="658.05" y2="522.93" class="err"/>
<rect x="650.3" y="534.23" width="12.5" height="56.97" fill="url(#pDark)" stroke="#000" stroke-width="1"/>
<text x="656.55" y="519.23" class="lab" text-anchor="middle">a</text>
<line x1="669.05" y1="485.43" x2="669.05" y2="500.43" class="err"/>
<line x1="667.55" y1="485.43" x2="670.55" y2="485.43" class="err"/>
<rect x="662.8" y="500.43" width="12.5" height="90.77" fill="url(#pDot)" stroke="#000" stroke-width="1"/>
<text x="669.05" y="481.73" class="lab" text-anchor="middle">b</text>
<line x1="681.55" y1="414.78" x2="681.55" y2="426.84" class="err"/>
<line x1="680.05" y1="414.78" x2="683.05" y2="414.78" class="err"/>
<rect x="675.3" y="426.84" width="12.5" height="164.36" fill="url(#pDiag)" stroke="#000" stroke-width="1"/>
<text x="681.55" y="411.08" class="lab" text-anchor="middle">d</text>
<line x1="694.05" y1="450.67" x2="694.05" y2="464.73" class="err"/>
<line x1="692.55" y1="450.67" x2="695.55" y2="450.67" class="err"/>
<rect x="687.8" y="464.73" width="12.5" height="126.47" fill="url(#pHor)" stroke="#000" stroke-width="1"/>
<text x="694.05" y="446.97" class="lab" text-anchor="middle">c</text>
<line x1="706.55" y1="508.88" x2="706.55" y2="522.65" class="err"/>
<line x1="705.05" y1="508.88" x2="708.05" y2="508.88" class="err"/>
<rect x="700.3" y="522.65" width="12.5" height="68.55" fill="#ffffff" stroke="#000" stroke-width="1"/>
<text x="706.55" y="505.18" class="lab" text-anchor="middle">a</text>
<text x="681.6" y="607.5" class="cat" text-anchor="middle">Taut</text>
<text x="72" y="646.3" class="tag">(c)</text>
<text x="462.5" y="643.8" class="ttl" text-anchor="middle">Dietary taurine levels (g/kg diet )</text>
<line x1="282" y1="653.8" x2="651.2" y2="653.8" stroke="#222" stroke-width="1.3"/>
<rect x="174.7" y="664.3" width="5.4" height="5.4" fill="#000" stroke="#000" stroke-width="1"/>
<text x="182" y="670.6" class="leg">Fishmeal diet</text>
<rect x="280.7" y="664.3" width="5.4" height="5.4" fill="#3a3a3a" stroke="#000" stroke-width="1"/>
<text x="288" y="670.6" class="leg">Tau 0</text>
<rect x="353.2" y="664.3" width="5.4" height="5.4" fill="#c4c4c4" stroke="#000" stroke-width="1"/>
<text x="360.5" y="670.6" class="leg">Tau 0.50</text>
<rect x="438.2" y="664.3" width="5.4" height="5.4" fill="#fff" stroke="#000" stroke-width="1"/>
<line x1="438.2" y1="669.7" x2="443.6" y2="664.3" stroke="#000" stroke-width="1.2"/>
<text x="445.5" y="670.6" class="leg">Tau 0.99</text>
<rect x="524.1" y="664.3" width="5.4" height="5.4" fill="#999" stroke="#000" stroke-width="1"/>
<line x1="524.1" y1="667" x2="529.5" y2="667" stroke="#333" stroke-width="1"/>
<text x="531.4" y="670.6" class="leg">Tau 1.46</text>
<rect x="611.2" y="664.3" width="5.4" height="5.4" fill="#fff" stroke="#000" stroke-width="1"/>
<text x="618.5" y="670.6" class="leg">Tau 1.98</text>
<line x1="118.4" y1="666.1" x2="118.4" y2="875.9" class="axis"/>
<line x1="118.4" y1="872.9" x2="732.8" y2="872.9" class="axis"/>
<line x1="115.6" y1="872.9" x2="118.4" y2="872.9" class="axis"/>
<text x="108.6" y="875.9" class="tick" text-anchor="end">0.00</text>
<line x1="115.6" y1="854.1" x2="118.4" y2="854.1" class="axis"/>
<text x="108.6" y="857.1" class="tick" text-anchor="end">0.20</text>
<line x1="115.6" y1="835.3" x2="118.4" y2="835.3" class="axis"/>
<text x="108.6" y="838.3" class="tick" text-anchor="end">0.40</text>
<line x1="115.6" y1="816.5" x2="118.4" y2="816.5" class="axis"/>
<text x="108.6" y="819.5" class="tick" text-anchor="end">0.60</text>
<line x1="115.6" y1="797.7" x2="118.4" y2="797.7" class="axis"/>
<text x="108.6" y="800.7" class="tick" text-anchor="end">0.80</text>
<line x1="115.6" y1="778.9" x2="118.4" y2="778.9" class="axis"/>
<text x="108.6" y="781.9" class="tick" text-anchor="end">1.00</text>
<line x1="115.6" y1="760.1" x2="118.4" y2="760.1" class="axis"/>
<text x="108.6" y="763.1" class="tick" text-anchor="end">1.20</text>
<line x1="115.6" y1="741.3" x2="118.4" y2="741.3" class="axis"/>
<text x="108.6" y="744.3" class="tick" text-anchor="end">1.40</text>
<line x1="115.6" y1="722.5" x2="118.4" y2="722.5" class="axis"/>
<text x="108.6" y="725.5" class="tick" text-anchor="end">1.60</text>
<line x1="115.6" y1="703.7" x2="118.4" y2="703.7" class="axis"/>
<text x="108.6" y="706.7" class="tick" text-anchor="end">1.80</text>
<line x1="115.6" y1="684.9" x2="118.4" y2="684.9" class="axis"/>
<text x="108.6" y="687.9" class="tick" text-anchor="end">2.00</text>
<line x1="115.6" y1="666.1" x2="118.4" y2="666.1" class="axis"/>
<text x="108.6" y="669.1" class="tick" text-anchor="end">2.20</text>
<line x1="118.4" y1="872.9" x2="118.4" y2="875.9" class="axis"/>
<line x1="220.8" y1="872.9" x2="220.8" y2="875.9" class="axis"/>
<line x1="323.2" y1="872.9" x2="323.2" y2="875.9" class="axis"/>
<line x1="425.6" y1="872.9" x2="425.6" y2="875.9" class="axis"/>
<line x1="528" y1="872.9" x2="528" y2="875.9" class="axis"/>
<line x1="630.4" y1="872.9" x2="630.4" y2="875.9" class="axis"/>
<line x1="732.8" y1="872.9" x2="732.8" y2="875.9" class="axis"/>
<text transform="translate(81.6,773.9) rotate(-90)" class="yt" text-anchor="middle" textLength="156" lengthAdjust="spacing">Relative mRNA levels in DI</text>
<line x1="132.05" y1="756.43" x2="132.05" y2="777.3" class="err"/>
<line x1="130.55" y1="756.43" x2="133.55" y2="756.43" class="err"/>
<rect x="125.8" y="777.3" width="12.5" height="95.6" fill="#0d0d0d"/>
<text x="132.05" y="752.73" class="lab" text-anchor="middle">cd</text>
<line x1="144.55" y1="809.73" x2="144.55" y2="815.94" class="err"/>
<line x1="143.05" y1="809.73" x2="146.05" y2="809.73" class="err"/>
<rect x="138.3" y="815.94" width="12.5" height="56.96" fill="url(#pDark)" stroke="#000" stroke-width="1"/>
<text x="144.55" y="806.03" class="lab" text-anchor="middle">a</text>
<line x1="157.05" y1="787.36" x2="157.05" y2="798.36" class="err"/>
<line x1="155.55" y1="787.36" x2="158.55" y2="787.36" class="err"/>
<rect x="150.8" y="798.36" width="12.5" height="74.54" fill="url(#pDot)" stroke="#000" stroke-width="1"/>
<text x="157.05" y="783.66" class="lab" text-anchor="middle">ab</text>
<line x1="169.55" y1="749.76" x2="169.55" y2="761.04" class="err"/>
<line x1="168.05" y1="749.76" x2="171.05" y2="749.76" class="err"/>
<rect x="163.3" y="761.04" width="12.5" height="111.86" fill="url(#pDiag)" stroke="#000" stroke-width="1"/>
<text x="169.55" y="746.06" class="lab" text-anchor="middle">d</text>
<line x1="182.05" y1="747.88" x2="182.05" y2="765.74" class="err"/>
<line x1="180.55" y1="747.88" x2="183.55" y2="747.88" class="err"/>
<rect x="175.8" y="765.74" width="12.5" height="107.16" fill="url(#pHor)" stroke="#000" stroke-width="1"/>
<text x="182.05" y="744.18" class="lab" text-anchor="middle">cd</text>
<line x1="194.55" y1="774.58" x2="194.55" y2="785.29" class="err"/>
<line x1="193.05" y1="774.58" x2="196.05" y2="774.58" class="err"/>
<rect x="188.3" y="785.29" width="12.5" height="87.61" fill="#ffffff" stroke="#000" stroke-width="1"/>
<text x="194.55" y="770.88" class="lab" text-anchor="middle">bc</text>
<text x="169.6" y="889" class="cat" text-anchor="middle">hepcidin</text>
<line x1="234.45" y1="761.89" x2="234.45" y2="777.96" class="err"/>
<line x1="232.95" y1="761.89" x2="235.95" y2="761.89" class="err"/>
<rect x="228.2" y="777.96" width="12.5" height="94.94" fill="#0d0d0d"/>
<text x="234.45" y="758.19" class="lab" text-anchor="middle">b</text>
<line x1="246.95" y1="805.03" x2="246.95" y2="815.56" class="err"/>
<line x1="245.45" y1="805.03" x2="248.45" y2="805.03" class="err"/>
<rect x="240.7" y="815.56" width="12.5" height="57.34" fill="url(#pDark)" stroke="#000" stroke-width="1"/>
<text x="246.95" y="801.33" class="lab" text-anchor="middle">a</text>
<line x1="259.45" y1="768.47" x2="259.45" y2="786.33" class="err"/>
<line x1="257.95" y1="768.47" x2="260.95" y2="768.47" class="err"/>
<rect x="253.2" y="786.33" width="12.5" height="86.57" fill="url(#pDot)" stroke="#000" stroke-width="1"/>
<text x="259.45" y="764.77" class="lab" text-anchor="middle">b</text>
<line x1="271.95" y1="715.64" x2="271.95" y2="746.38" class="err"/>
<line x1="270.45" y1="715.64" x2="273.45" y2="715.64" class="err"/>
<rect x="265.7" y="746.38" width="12.5" height="126.52" fill="url(#pDiag)" stroke="#000" stroke-width="1"/>
<text x="271.95" y="711.94" class="lab" text-anchor="middle">c</text>
<line x1="284.45" y1="729.27" x2="284.45" y2="752.58" class="err"/>
<line x1="282.95" y1="729.27" x2="285.95" y2="729.27" class="err"/>
<rect x="278.2" y="752.58" width="12.5" height="120.32" fill="url(#pHor)" stroke="#000" stroke-width="1"/>
<text x="284.45" y="725.57" class="lab" text-anchor="middle">c</text>
<line x1="296.95" y1="773.64" x2="296.95" y2="785.67" class="err"/>
<line x1="295.45" y1="773.64" x2="298.45" y2="773.64" class="err"/>
<rect x="290.7" y="785.67" width="12.5" height="87.23" fill="#ffffff" stroke="#000" stroke-width="1"/>
<text x="296.95" y="769.94" class="lab" text-anchor="middle">b</text>
<text x="272" y="889" class="cat" text-anchor="middle">LEAP-2A</text>
<line x1="336.85" y1="762.64" x2="336.85" y2="777.96" class="err"/>
<line x1="335.35" y1="762.64" x2="338.35" y2="762.64" class="err"/>
<rect x="330.6" y="777.96" width="12.5" height="94.94" fill="#0d0d0d"/>
<text x="336.85" y="758.94" class="lab" text-anchor="middle">b</text>
<line x1="349.35" y1="804.56" x2="349.35" y2="812.08" class="err"/>
<line x1="347.85" y1="804.56" x2="350.85" y2="804.56" class="err"/>
<rect x="343.1" y="812.08" width="12.5" height="60.82" fill="url(#pDark)" stroke="#000" stroke-width="1"/>
<text x="349.35" y="800.86" class="lab" text-anchor="middle">a</text>
<line x1="361.85" y1="766.49" x2="361.85" y2="783.51" class="err"/>
<line x1="360.35" y1="766.49" x2="363.35" y2="766.49" class="err"/>
<rect x="355.6" y="783.51" width="12.5" height="89.39" fill="url(#pDot)" stroke="#000" stroke-width="1"/>
<text x="361.85" y="762.79" class="lab" text-anchor="middle">b</text>
<line x1="374.35" y1="703.7" x2="374.35" y2="737.54" class="err"/>
<line x1="372.85" y1="703.7" x2="375.85" y2="703.7" class="err"/>
<rect x="368.1" y="737.54" width="12.5" height="135.36" fill="url(#pDiag)" stroke="#000" stroke-width="1"/>
<text x="374.35" y="700" class="lab" text-anchor="middle">c</text>
<line x1="386.85" y1="739.04" x2="386.85" y2="750.89" class="err"/>
<line x1="385.35" y1="739.04" x2="388.35" y2="739.04" class="err"/>
<rect x="380.6" y="750.89" width="12.5" height="122.01" fill="url(#pHor)" stroke="#000" stroke-width="1"/>
<text x="386.85" y="735.34" class="lab" text-anchor="middle">c</text>
<line x1="399.35" y1="773.64" x2="399.35" y2="781.63" class="err"/>
<line x1="397.85" y1="773.64" x2="400.85" y2="773.64" class="err"/>
<rect x="393.1" y="781.63" width="12.5" height="91.27" fill="#ffffff" stroke="#000" stroke-width="1"/>
<text x="399.35" y="769.94" class="lab" text-anchor="middle">b</text>
<text x="374.4" y="889" class="cat" text-anchor="middle">LEAP-2B</text>
<line x1="439.25" y1="770.44" x2="439.25" y2="778.71" class="err"/>
<line x1="437.75" y1="770.44" x2="440.75" y2="770.44" class="err"/>
<rect x="433" y="778.71" width="12.5" height="94.19" fill="#0d0d0d"/>
<text x="439.25" y="766.74" class="lab" text-anchor="middle">b</text>
<line x1="451.75" y1="802.21" x2="451.75" y2="812.55" class="err"/>
<line x1="450.25" y1="802.21" x2="453.25" y2="802.21" class="err"/>
<rect x="445.5" y="812.55" width="12.5" height="60.35" fill="url(#pDark)" stroke="#000" stroke-width="1"/>
<text x="451.75" y="798.51" class="lab" text-anchor="middle">a</text>
<line x1="464.25" y1="771.29" x2="464.25" y2="792.91" class="err"/>
<line x1="462.75" y1="771.29" x2="465.75" y2="771.29" class="err"/>
<rect x="458" y="792.91" width="12.5" height="79.99" fill="url(#pDot)" stroke="#000" stroke-width="1"/>
<text x="464.25" y="767.59" class="lab" text-anchor="middle">b</text>
<line x1="476.75" y1="732.37" x2="476.75" y2="744.12" class="err"/>
<line x1="475.25" y1="732.37" x2="478.25" y2="732.37" class="err"/>
<rect x="470.5" y="744.12" width="12.5" height="128.78" fill="url(#pDiag)" stroke="#000" stroke-width="1"/>
<text x="476.75" y="728.67" class="lab" text-anchor="middle">c</text>
<line x1="489.25" y1="736.22" x2="489.25" y2="748.54" class="err"/>
<line x1="487.75" y1="736.22" x2="490.75" y2="736.22" class="err"/>
<rect x="483" y="748.54" width="12.5" height="124.36" fill="url(#pHor)" stroke="#000" stroke-width="1"/>
<text x="489.25" y="732.52" class="lab" text-anchor="middle">c</text>
<line x1="501.75" y1="766.49" x2="501.75" y2="781.91" class="err"/>
<line x1="500.25" y1="766.49" x2="503.25" y2="766.49" class="err"/>
<rect x="495.5" y="781.91" width="12.5" height="90.99" fill="#ffffff" stroke="#000" stroke-width="1"/>
<text x="501.75" y="762.79" class="lab" text-anchor="middle">b</text>
<text x="476.8" y="889" class="cat" text-anchor="middle">β-defensin-1</text>
<line x1="541.65" y1="755.49" x2="541.65" y2="777.11" class="err"/>
<line x1="540.15" y1="755.49" x2="543.15" y2="755.49" class="err"/>
<rect x="535.4" y="777.11" width="12.5" height="95.79" fill="#0d0d0d"/>
<text x="541.65" y="751.79" class="lab" text-anchor="middle">b</text>
<line x1="554.15" y1="798.08" x2="554.15" y2="808.32" class="err"/>
<line x1="552.65" y1="798.08" x2="555.65" y2="798.08" class="err"/>
<rect x="547.9" y="808.32" width="12.5" height="64.58" fill="url(#pDark)" stroke="#000" stroke-width="1"/>
<text x="554.15" y="794.38" class="lab" text-anchor="middle">a</text>
<line x1="566.65" y1="763.3" x2="566.65" y2="781.63" class="err"/>
<line x1="565.15" y1="763.3" x2="568.15" y2="763.3" class="err"/>
<rect x="560.4" y="781.63" width="12.5" height="91.27" fill="url(#pDot)" stroke="#000" stroke-width="1"/>
<text x="566.65" y="759.6" class="lab" text-anchor="middle">b</text>
<line x1="579.15" y1="701.82" x2="579.15" y2="729.64" class="err"/>
<line x1="577.65" y1="701.82" x2="580.65" y2="701.82" class="err"/>
<rect x="572.9" y="729.64" width="12.5" height="143.26" fill="url(#pDiag)" stroke="#000" stroke-width="1"/>
<text x="579.15" y="698.12" class="lab" text-anchor="middle">c</text>
<line x1="591.65" y1="716.58" x2="591.65" y2="736.22" class="err"/>
<line x1="590.15" y1="716.58" x2="593.15" y2="716.58" class="err"/>
<rect x="585.4" y="736.22" width="12.5" height="136.68" fill="url(#pHor)" stroke="#000" stroke-width="1"/>
<text x="591.65" y="712.88" class="lab" text-anchor="middle">c</text>
<line x1="604.15" y1="773.64" x2="604.15" y2="786.04" class="err"/>
<line x1="602.65" y1="773.64" x2="605.65" y2="773.64" class="err"/>
<rect x="597.9" y="786.04" width="12.5" height="86.86" fill="#ffffff" stroke="#000" stroke-width="1"/>
<text x="604.15" y="769.94" class="lab" text-anchor="middle">b</text>
<text x="579.2" y="889" class="cat" text-anchor="middle">MUC2</text>
<line x1="644.05" y1="754.65" x2="644.05" y2="774.48" class="err"/>
<line x1="642.55" y1="754.65" x2="645.55" y2="754.65" class="err"/>
<rect x="637.8" y="774.48" width="12.5" height="98.42" fill="#0d0d0d"/>
<text x="644.05" y="750.95" class="lab" text-anchor="middle">c</text>
<line x1="656.55" y1="804.37" x2="656.55" y2="814.43" class="err"/>
<line x1="655.05" y1="804.37" x2="658.05" y2="804.37" class="err"/>
<rect x="650.3" y="814.43" width="12.5" height="58.47" fill="url(#pDark)" stroke="#000" stroke-width="1"/>
<text x="656.55" y="800.67" class="lab" text-anchor="middle">a</text>
<line x1="669.05" y1="755.87" x2="669.05" y2="769.59" class="err"/>
<line x1="667.55" y1="755.87" x2="670.55" y2="755.87" class="err"/>
<rect x="662.8" y="769.59" width="12.5" height="103.31" fill="url(#pDot)" stroke="#000" stroke-width="1"/>
<text x="669.05" y="752.17" class="lab" text-anchor="middle">cd</text>
<line x1="681.55" y1="703.79" x2="681.55" y2="722.41" class="err"/>
<line x1="680.05" y1="703.79" x2="683.05" y2="703.79" class="err"/>
<rect x="675.3" y="722.41" width="12.5" height="150.49" fill="url(#pDiag)" stroke="#000" stroke-width="1"/>
<text x="681.55" y="700.09" class="lab" text-anchor="middle">e</text>
<line x1="694.05" y1="738.48" x2="694.05" y2="753.9" class="err"/>
<line x1="692.55" y1="738.48" x2="695.55" y2="738.48" class="err"/>
<rect x="687.8" y="753.9" width="12.5" height="119" fill="url(#pHor)" stroke="#000" stroke-width="1"/>
<text x="694.05" y="734.78" class="lab" text-anchor="middle">d</text>
<line x1="706.55" y1="779.56" x2="706.55" y2="794.41" class="err"/>
<line x1="705.05" y1="779.56" x2="708.05" y2="779.56" class="err"/>
<rect x="700.3" y="794.41" width="12.5" height="78.49" fill="#ffffff" stroke="#000" stroke-width="1"/>
<text x="706.55" y="775.86" class="lab" text-anchor="middle">b</text>
<text x="681.6" y="889" class="cat" text-anchor="middle">Taut</text>
</svg>
<div id="cap" style="position:absolute;left:0;top:0;font-family:'Liberation Sans',sans-serif;font-size:10.8px;color:#2e2e2e;">
<div class="cl" style="position:absolute;left:63.7px;top:906px;white-space:nowrap;letter-spacing:0.071px"><b style="letter-spacing:1.2px;color:#222">FIGURE 4</b><span style="display:inline-block;width:10.5px"></span>Effects of fish fed FM diet/all-plant protein source-based diets containing graded levels of taurine on relative mRNA levels</div>
<div class="cl" style="position:absolute;left:63.7px;top:921px;white-space:nowrap;letter-spacing:-0.065px">of hepcidin, LEAP-2A, LEAP-2B, &beta;-defensin-1, MUC2 and Taut in the PI (a), MI (b) and DI (c) of fish. LEAP-2, liver-expressed antimicrobial</div>
<div class="cl" style="position:absolute;left:63.7px;top:936px;white-space:nowrap;letter-spacing:0.0px">peptide 2; MUC2, mucin2; Taut, taurine transporter. All values are presented as the means &plusmn; <i>SD</i>, <i>n</i> = 6, error bars indicate <i>SD</i>. Values within</div>
<div class="cl" style="position:absolute;left:63.7px;top:951px;white-space:nowrap;letter-spacing:0.118px">the same row with different superscripts are significantly different (<i>p</i> &lt; 0.05; ANOVA)</div>
</div>
</body></html>
